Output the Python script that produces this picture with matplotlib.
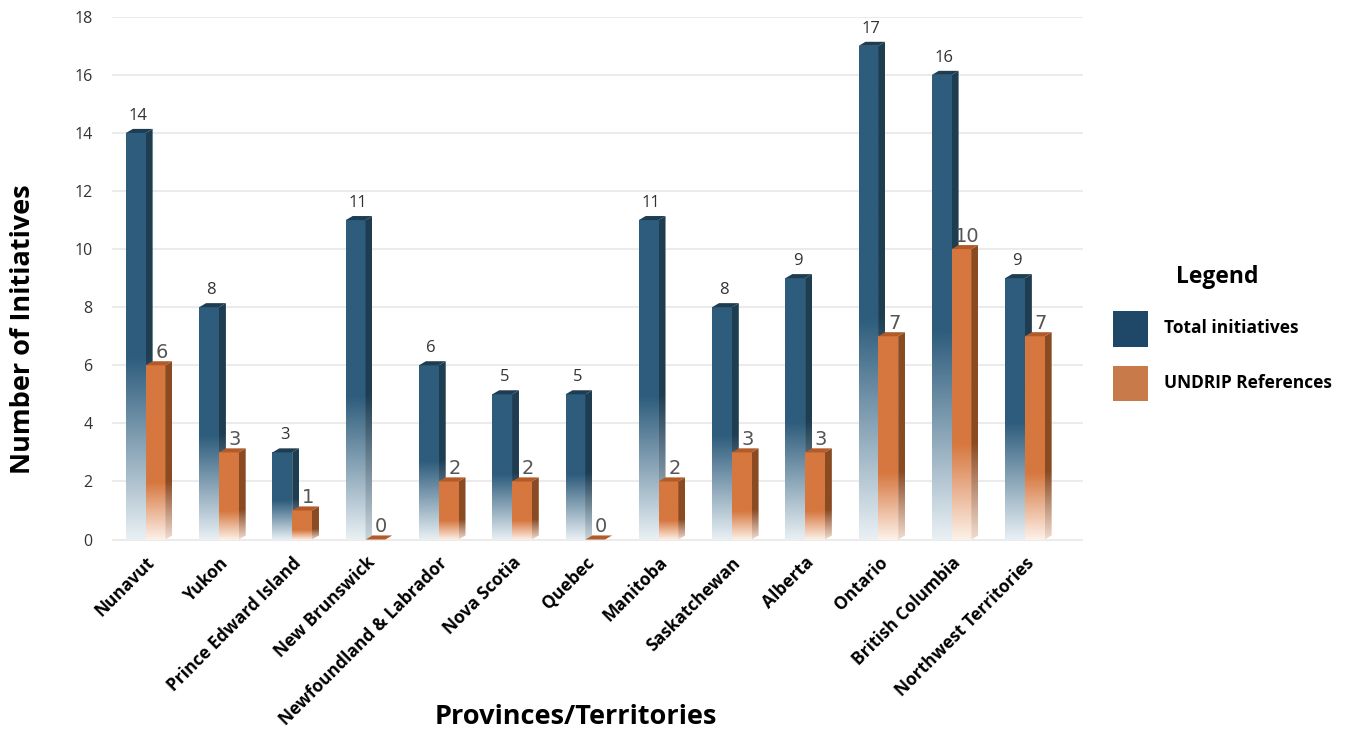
import matplotlib.pyplot as plt
import numpy as np
from matplotlib.colors import to_rgb
from matplotlib.patches import Polygon, Rectangle

provinces = ["Nunavut", "Yukon", "Prince Edward Island", "New Brunswick",
             "Newfoundland & Labrador", "Nova Scotia", "Quebec", "Manitoba",
             "Saskatchewan", "Alberta", "Ontario", "British Columbia",
             "Northwest Territories"]
total = [14, 8, 3, 11, 6, 5, 5, 11, 8, 9, 17, 16, 9]
undrip = [6, 3, 1, 0, 2, 2, 0, 2, 3, 3, 7, 10, 7]

W = 0.27     # front face width
DX = 0.095   # depth offset (x)
DY = 0.14    # depth offset (y)

BLUE = dict(front="#2d5c7c", side="#1e3d52", top="#1e3d52",
            front_lo="#e9f0f4", side_lo="#c9d5dd", fade=0.45)
ORANGE = dict(front="#d6773f", side="#8a4a23", top="#b25a28",
              front_lo="#fdf1e8", side_lo="#f2ddd0", fade=0.33)


def gradient(c_hi, c_lo, fade, n=200):
    t = np.linspace(0, 1, n)
    hi = np.array(to_rgb(c_hi))
    lo = np.array(to_rgb(c_lo))
    k = np.clip(t / fade, 0, 1)[:, None]
    rgb = lo + (hi - lo) * k
    return rgb[:, None, :]


def bar3d(ax, x0, h, sty):
    x1 = x0 + W
    if h > 0:
        ax.imshow(gradient(sty["front"], sty["front_lo"], sty["fade"]),
                  extent=[x0, x1, 0, h], origin="lower", aspect="auto",
                  interpolation="bilinear", zorder=3)
        side = Polygon([(x1, 0), (x1, h), (x1 + DX, h + DY), (x1 + DX, DY)],
                       closed=True, facecolor="none", edgecolor="none")
        ax.add_patch(side)
        im = ax.imshow(gradient(sty["side"], sty["side_lo"], sty["fade"]),
                       extent=[x1, x1 + DX, 0, h + DY], origin="lower",
                       aspect="auto", interpolation="bilinear", zorder=3)
        im.set_clip_path(side)
    top = Polygon([(x0, h), (x1, h), (x1 + DX, h + DY), (x0 + DX, h + DY)],
                  closed=True, facecolor=sty["top"], edgecolor="none", zorder=4)
    ax.add_patch(top)


fig = plt.figure(figsize=(13.54, 7.31), dpi=100)
ax = fig.add_axes([0.0827, 0.252, 0.717, 0.725])

x = np.arange(len(provinces))
for i in x:
    bar3d(ax, i - W, total[i], BLUE)
    bar3d(ax, i, undrip[i], ORANGE)
    ax.text(i - W / 2 + 0.03, total[i] + 0.32, str(total[i]), ha="center",
            va="bottom", fontsize=12, color="#333333", family="Open Sans")
    ax.text(i + W / 2 + 0.08, undrip[i] + 0.12, str(undrip[i]), ha="center",
            va="bottom", fontsize=14, color="#555555", family="DejaVu Sans")

ax.set_xlim(-0.46, 12.79)
ax.set_ylim(-0.25, 18)
ax.set_yticks(range(0, 19, 2))
ax.set_xticks(x)
ax.set_xticklabels(provinces, rotation=45, ha="right", rotation_mode="anchor",
                   fontsize=12.5, fontweight="bold", family="Open Sans")
for lbl in ax.get_yticklabels():
    lbl.set_fontsize(11.5)
    lbl.set_color("#333333")
    lbl.set_family("Open Sans")
ax.tick_params(axis="both", length=0)
ax.tick_params(axis="y", pad=14)
ax.tick_params(axis="x", pad=5)
ax.grid(axis="y", color="#ebebeb", linewidth=1.5, zorder=0)
ax.set_axisbelow(True)
for s in ax.spines.values():
    s.set_visible(False)

fig.text(0.017, 0.549, "Number of Initiatives", rotation=90, ha="center",
         va="center", fontsize=19.5, fontweight="bold", family="Open Sans")
fig.text(0.425, 0.019, "Provinces/Territories", ha="center", va="center",
         fontsize=19.5, fontweight="bold", family="Open Sans")

# legend
fig.text(0.899, 0.621, "Legend", ha="center", va="center", fontsize=16.5,
         fontweight="bold", family="Open Sans")
fig.patches.append(Rectangle((0.822, 0.525), 0.026, 0.05, facecolor="#1f4868",
                             transform=fig.transFigure, figure=fig))
fig.patches.append(Rectangle((0.822, 0.452), 0.026, 0.048, facecolor="#c87a4a",
                             transform=fig.transFigure, figure=fig))
fig.text(0.860, 0.551, "Total initiatives", ha="left", va="center",
         fontsize=12.5, fontweight="bold", family="Open Sans")
fig.text(0.860, 0.476, "UNDRIP References", ha="left", va="center",
         fontsize=12.5, fontweight="bold", family="Open Sans")

fig.savefig("out.png", dpi=100, facecolor="white")
